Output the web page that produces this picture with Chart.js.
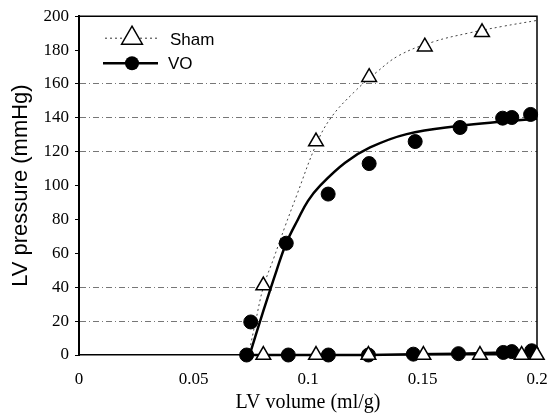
<!DOCTYPE html>
<html>
<head>
<meta charset="utf-8">
<script src="https://cdn.jsdelivr.net/npm/chart.js@4/dist/chart.umd.min.js"></script>
<style>
  html, body { margin: 0; padding: 0; background: #fff; }
  #wrap { width: 547px; height: 416px; }
</style>
</head>
<body>
<div id="wrap"><canvas id="pvChart"></canvas></div>
<script>
// fitted curves
const shamCurveX = [0.074, 0.077, 0.0805, 0.085, 0.090, 0.095, 0.1035, 0.110, 0.120, 0.130, 0.140, 0.155, 0.170, 0.185, 0.200]
const shamCurveY = [0, 19, 40, 57, 76, 94, 124, 140, 155, 167, 177, 185, 190, 194, 197.5]
const voCurveX = [0.0745, 0.0805, 0.0863, 0.0905, 0.0956, 0.100, 0.1053, 0.1162, 0.1271, 0.1431, 0.1664, 0.185, 0.200]
const voCurveY = [0, 26, 50, 66, 80, 91, 100, 113.5, 122.5, 130.4, 135.3, 137.8, 139.5]

// end-systolic / upper points
const shamX = [0.0805, 0.1035, 0.1267, 0.151, 0.176]
const shamY = [41, 126, 164, 182, 190.5]
const voX = [0.075, 0.0905, 0.1088, 0.1267, 0.1468, 0.1664, 0.185, 0.189, 0.1972]
const voY = [19.5, 66, 95, 113, 126, 134.3, 139.8, 140.2, 142]

// diastolic points near zero
const shamZeroX = [0.0805, 0.1035, 0.1264, 0.1504, 0.1751, 0.1933, 0.1999]
const shamZeroY = [0, 0, 0, 0, 0, 0, 0]
const voZeroX = [0.0732, 0.0914, 0.1089, 0.1264, 0.146, 0.1657, 0.1853, 0.189, 0.1977]
const voZeroY = [0, 0, 0, 0, 0.5, 0.8, 1.5, 2, 2.5]

const xTicks = [0, 0.05, 0.1, 0.15, 0.2]
const yGridShown = [20, 40, 120, 140, 160]

const pts = (xs, ys) => xs.map((x, i) => ({x: x, y: ys[i]}))

const serif = '"Liberation Serif", "Times New Roman", serif'
const sans = '"Liberation Sans", Arial, sans-serif'

const triangleStyle = {
    pointStyle: 'triangle',
    pointRadius: 8.5,
    pointBackgroundColor: '#ffffff',
    pointBorderColor: '#000000',
    pointBorderWidth: 1.5,
}
const circleStyle = {
    pointStyle: 'circle',
    pointRadius: 7,
    pointBackgroundColor: '#000000',
    pointBorderColor: '#000000',
    pointBorderWidth: 1,
}

// frame on top/right + in-plot legend
const framePlugin = {
    id: 'frame',
    beforeDatasetsDraw(chart) {
        const {ctx, chartArea: a} = chart
        ctx.save()
        ctx.strokeStyle = '#000'
        ctx.lineWidth = 1.5
        ctx.beginPath()
        ctx.moveTo(a.left, a.top)
        ctx.lineTo(a.right, a.top)
        ctx.lineTo(a.right, a.bottom)
        ctx.stroke()
        ctx.restore()
    },
    afterDraw(chart) {
        const {ctx, chartArea: a} = chart
        const x0 = a.left + 26, x1 = a.left + 81, mx = a.left + 53
        const y1 = a.top + 22, y2 = a.top + 47
        ctx.save()
        // Sham
        ctx.strokeStyle = '#333'
        ctx.lineWidth = 1
        ctx.setLineDash([2, 3])
        ctx.beginPath(); ctx.moveTo(x0, y1); ctx.lineTo(x1, y1); ctx.stroke()
        ctx.setLineDash([])
        const r = 12
        ctx.beginPath()
        ctx.moveTo(mx, y1 - r)
        ctx.lineTo(mx + r * Math.sin(2 * Math.PI / 3), y1 - r * Math.cos(2 * Math.PI / 3))
        ctx.lineTo(mx + r * Math.sin(4 * Math.PI / 3), y1 - r * Math.cos(4 * Math.PI / 3))
        ctx.closePath()
        ctx.fillStyle = '#fff'
        ctx.fill()
        ctx.strokeStyle = '#000'
        ctx.lineWidth = 1.5
        ctx.stroke()
        // VO
        ctx.lineWidth = 2.5
        ctx.beginPath(); ctx.moveTo(x0 - 2, y2); ctx.lineTo(x1 - 2, y2); ctx.stroke()
        ctx.beginPath(); ctx.arc(mx, y2, 7, 0, 2 * Math.PI); ctx.fillStyle = '#000'; ctx.fill()
        ctx.font = '17px ' + sans
        ctx.textBaseline = 'middle'
        ctx.fillStyle = '#000'
        ctx.fillText('Sham', a.left + 91, y1 + 2)
        ctx.fillText('VO', a.left + 89, y2 + 1)
        ctx.restore()
    }
}

const pvConfig = {
    type: 'scatter',
    data: {
        datasets: [
            Object.assign({label: 'Sham zero', data: pts(shamZeroX, shamZeroY), showLine: false, clip: false}, triangleStyle),
            Object.assign({label: 'Sham', data: pts(shamX, shamY), showLine: false, clip: false}, triangleStyle),
            Object.assign({label: 'VO zero', data: pts(voZeroX, voZeroY), showLine: true, borderColor: '#000', borderWidth: 2.5, clip: false}, circleStyle),
            Object.assign({label: 'VO', data: pts(voX, voY), showLine: false, clip: false}, circleStyle),
            {
                label: 'VO fit',
                data: pts(voCurveX, voCurveY),
                showLine: true,
                borderColor: '#000',
                borderWidth: 2.5,
                pointRadius: 0,
                tension: 0.4,
            },
            {
                label: 'Sham fit',
                data: pts(shamCurveX, shamCurveY),
                showLine: true,
                borderColor: '#444',
                borderWidth: 1,
                borderDash: [2, 3],
                pointRadius: 0,
                tension: 0.4,
            },
        ]
    },
    options: {
        responsive: true,
        maintainAspectRatio: false,
        animation: false,
        layout: {padding: {top: 15, right: 10, left: 0, bottom: 0}},
        scales: {
            x: {
                type: 'linear',
                min: 0,
                max: 0.2,
                afterBuildTicks: s => { s.ticks = xTicks.map(v => ({value: v})) },
                afterFit: s => { s.height = 61; s.paddingLeft = 0; s.paddingRight = 0 },
                grid: {display: false},
                border: {display: true, color: '#000', width: 1.5},
                ticks: {
                    color: '#000',
                    padding: 6,
                    maxRotation: 0,
                    autoSkip: false,
                    font: {family: serif, size: 17},
                    callback: v => String(+v.toFixed(2)),
                },
                title: {
                    display: true,
                    text: 'LV volume (ml/g)',
                    color: '#000',
                    padding: {top: 0, bottom: 1},
                    font: {family: serif, size: 20},
                },
            },
            y: {
                min: 0,
                max: 200,
                ticks: {
                    stepSize: 20,
                    color: '#000',
                    padding: 6,
                    font: {family: serif, size: 17},
                },
                afterFit: s => { s.width = 79 },
                grid: {
                    color: c => yGridShown.includes(c.tick.value) ? '#777' : 'rgba(0,0,0,0)',
                    lineWidth: 1,
                    tickLength: 4,
                    tickColor: '#000',
                },
                border: {display: true, color: '#000', width: 2, dash: [6, 3, 1, 3]},
                title: {
                    display: true,
                    text: 'LV pressure (mmHg)',
                    color: '#000',
                    padding: {top: 8, bottom: 0},
                    font: {family: sans, size: 22},
                },
            },
        },
        plugins: {
            legend: {display: false},
            tooltip: {enabled: false},
        },
    },
    plugins: [framePlugin],
};

const pvChart = new Chart(document.getElementById('pvChart'), pvConfig);
</script>
</body>
</html>
